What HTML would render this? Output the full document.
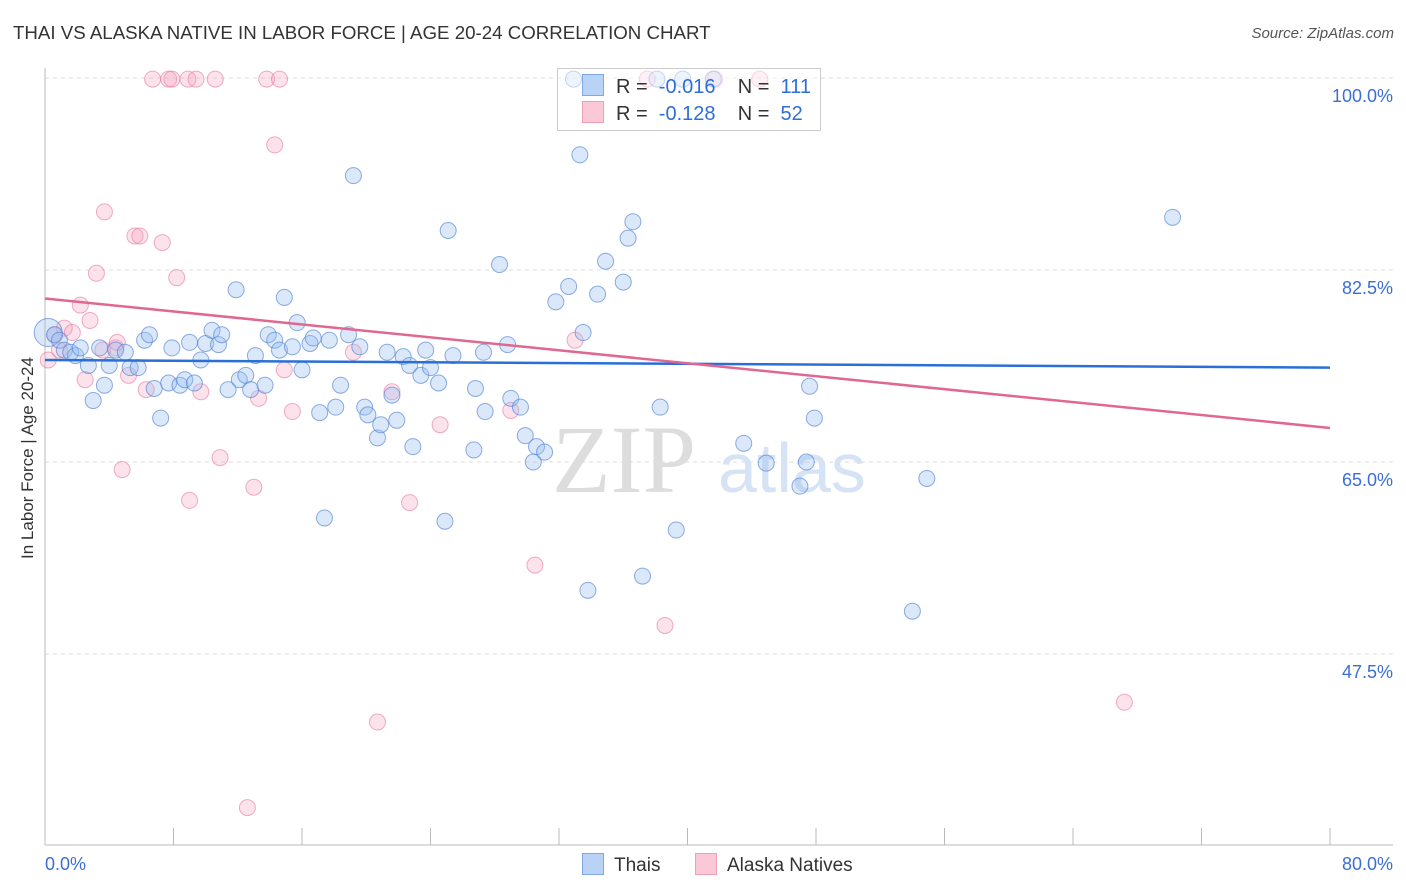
<!DOCTYPE html>
<html><head><meta charset="utf-8"><style>
body{margin:0;background:#fff;font-family:"Liberation Sans",sans-serif;}
#wrap{position:relative;width:1406px;height:892px;overflow:hidden;}
.t{position:absolute;white-space:nowrap;}
</style></head><body>
<div id="wrap">
<div class="t" style="left:13px;top:22px;font-size:18.7px;color:#333;">THAI VS ALASKA NATIVE IN LABOR FORCE | AGE 20-24 CORRELATION CHART</div>
<div class="t" style="right:12px;top:25px;font-size:15px;color:#555;font-style:italic;">Source: ZipAtlas.com</div>
<div class="t" style="left:28px;top:458px;font-size:17px;color:#333;transform:translate(-50%,-50%) rotate(-90deg);">In Labor Force | Age 20-24</div>
<svg id="svg" width="1406" height="892" style="position:absolute;left:0;top:0"></svg>
</div>
<script>
const yTicks=[100,82.5,65,47.5];
const yTickLabels=["100.0%","82.5%","65.0%","47.5%"];
const xLabels=["0.0%","80.0%"];
const thaiX=[0.2,0.6,0.9,1.2,1.6,1.9,2.2,2.7,3.0,3.4,3.7,4.0,4.4,5.0,5.3,5.8,6.2,6.5,6.8,7.2,7.7,7.9,8.4,8.7,9.0,9.3,9.7,10.0,10.4,10.8,11.0,11.4,11.9,12.1,12.5,12.8,13.1,13.7,13.9,14.3,14.6,14.9,15.4,15.7,16.0,16.5,16.7,17.1,17.4,17.7,18.1,18.4,18.9,19.2,19.6,19.9,20.1,20.7,20.9,21.3,21.6,21.9,22.3,22.7,22.9,23.4,23.7,24.0,24.5,24.9,25.1,25.4,26.7,26.8,27.3,27.4,28.3,28.8,29.0,29.6,29.9,30.4,30.6,31.1,31.8,32.6,32.9,33.3,33.5,33.8,34.4,34.9,36.0,36.3,36.6,37.2,38.3,39.3,43.5,44.9,47.0,47.4,47.6,47.9,54.0,54.9,70.2,38.1,39.7,41.6];
const thaiY=[76.8,76.6,76.1,75.2,75.0,74.7,75.4,73.8,70.6,75.4,72.0,73.8,75.2,75.0,73.6,73.6,76.1,76.6,71.7,69.0,72.2,75.4,72.0,72.5,75.9,72.2,74.3,75.8,77.0,75.7,76.6,71.6,80.7,72.5,72.9,71.6,74.7,72.0,76.6,76.1,75.2,80.0,75.5,77.7,73.4,75.8,76.3,69.5,59.9,76.1,70.0,72.0,76.6,91.1,75.5,70.0,69.3,67.2,68.4,75.0,71.1,68.8,74.6,73.8,66.4,72.9,75.2,73.6,72.2,59.6,86.1,74.7,66.1,71.7,75.0,69.6,83.0,75.7,70.8,70.0,67.4,65.0,66.4,65.9,79.6,81.0,99.9,93.0,76.8,53.3,80.3,83.3,81.4,85.4,86.9,54.6,70.0,58.8,66.7,64.9,62.8,65.0,71.9,69.0,51.4,63.5,87.3,99.9,99.9,99.9];
const akX=[0.2,0.6,0.9,1.2,1.7,2.2,2.5,2.8,3.2,3.6,3.7,4.4,4.5,4.8,5.2,5.6,5.9,6.3,6.7,7.3,7.7,7.9,8.2,8.9,9.0,9.4,9.7,10.6,10.9,13.0,13.3,13.8,14.3,14.6,14.9,15.4,19.2,20.7,21.6,22.7,24.6,29.0,30.5,33.0,37.5,38.6,41.7,44.5,67.2,12.6];
const akY=[74.3,76.6,75.2,77.2,76.8,79.3,72.5,77.9,82.2,75.2,87.8,75.4,75.9,64.3,72.9,85.6,85.6,71.6,99.9,85.0,99.9,99.9,81.8,99.9,61.5,99.9,71.4,99.9,65.4,62.7,70.8,99.9,93.9,99.9,73.4,69.6,75.0,41.3,71.4,61.3,68.4,69.7,55.6,76.1,99.9,50.1,99.9,99.9,43.1,33.5];
const thaiTrend=[74.3,73.6];
const akTrend=[79.9,68.1];
const NS="http://www.w3.org/2000/svg";
const svg=document.getElementById('svg');
const X=v=>45+v/80*1285;
const Y=v=>78+(100-v)/17.5*192;
function mk(tag,a,p){const e=document.createElementNS(NS,tag);for(const k in a)e.setAttribute(k,a[k]);(p||svg).appendChild(e);return e;}
yTicks.forEach((v,i)=>{
 const g=mk('line',{x1:45,x2:1393,y1:Y(v),y2:Y(v),stroke:'#ddd','stroke-dasharray':'4,4'});
 
 
 const t=mk('text',{x:1393,y:Y(v)+24,'text-anchor':'end','font-size':18,fill:'#3b6fd4','font-family':'Liberation Sans, sans-serif'});
 t.textContent=yTickLabels[i];
 
 
});
mk('line',{x1:45,x2:45,y1:68,y2:845,stroke:'#bbb'});
mk('line',{x1:45,x2:1393,y1:845,y2:845,stroke:'#bbb'});
for(let i=0;i<=10;i++){const tk=mk('line',{x1:X(i*8),x2:X(i*8),y1:828,y2:845,stroke:'#bbb'});
 
 }
[[45,'start',0],[1393,'end',1]].forEach(([x,a,i])=>{const t=mk('text',{x:x,y:870,'text-anchor':a,'font-size':18,fill:'#3b6fd4','font-family':'Liberation Sans, sans-serif'});t.textContent=xLabels[i];
 
 });
const wm=mk('text',{x:552,y:492,'font-size':96,fill:'#ddd','font-family':'Liberation Serif, serif'});wm.textContent='ZIP';


const wm2=mk('text',{x:718,y:492,'font-size':70,fill:'#d6e3f5','font-family':'Liberation Sans, sans-serif'});wm2.textContent='atlas';


akX.forEach((v,i)=>{const c=mk('circle',{cx:X(v),cy:Y(akY[i]),r:8,fill:'rgba(244,160,190,0.3)',stroke:'rgba(230,120,160,0.6)','stroke-width':1});
 
 });
thaiX.forEach((v,i)=>{const c=mk('circle',{cx:X(v),cy:Y(thaiY[i]),r:i==0?14:8,fill:'rgba(150,190,240,0.35)',stroke:'rgba(80,130,210,0.65)','stroke-width':1});
 
 });
const l1=mk('line',{x1:X(0),x2:X(80),y1:Y(thaiTrend[0]),y2:Y(thaiTrend[1]),stroke:'#2a6fd6','stroke-width':2.5});


const l2=mk('line',{x1:X(0),x2:X(80),y1:Y(akTrend[0]),y2:Y(akTrend[1]),stroke:'#e06890','stroke-width':2.5});


</script>
<div class="t" style="left:557px;top:68px;width:262px;height:61px;border:1px solid #ccc;background:rgba(255,255,255,0.5);"></div>
<div class="t" style="left:582px;top:74px;font-size:20px;color:#333;"><span style="display:inline-block;width:20px;height:20px;background:#b8d3f6;border:1px solid #7fa9e6;vertical-align:-3px;margin-right:12px"></span>R = &nbsp;<span style="color:#2e6fd6">-0.016</span>&nbsp;&nbsp;&nbsp; N = &nbsp;<span style="color:#2e6fd6">111</span></div>
<div class="t" style="left:582px;top:101px;font-size:20px;color:#333;"><span style="display:inline-block;width:20px;height:20px;background:#fbc8d7;border:1px solid #eda0b8;vertical-align:-3px;margin-right:12px"></span>R = &nbsp;<span style="color:#2e6fd6">-0.128</span>&nbsp;&nbsp;&nbsp; N = &nbsp;<span style="color:#2e6fd6">52</span></div>
<div class="t" style="left:582px;top:853px;font-size:19px;color:#333;"><span style="display:inline-block;width:20px;height:20px;background:#b8d3f6;border:1px solid #7fa9e6;vertical-align:-4px;margin-right:10px"></span>Thais</div>
<div class="t" style="left:695px;top:853px;font-size:19px;color:#333;"><span style="display:inline-block;width:20px;height:20px;background:#fbc8d7;border:1px solid #eda0b8;vertical-align:-4px;margin-right:10px"></span>Alaska Natives</div>
</body></html>
